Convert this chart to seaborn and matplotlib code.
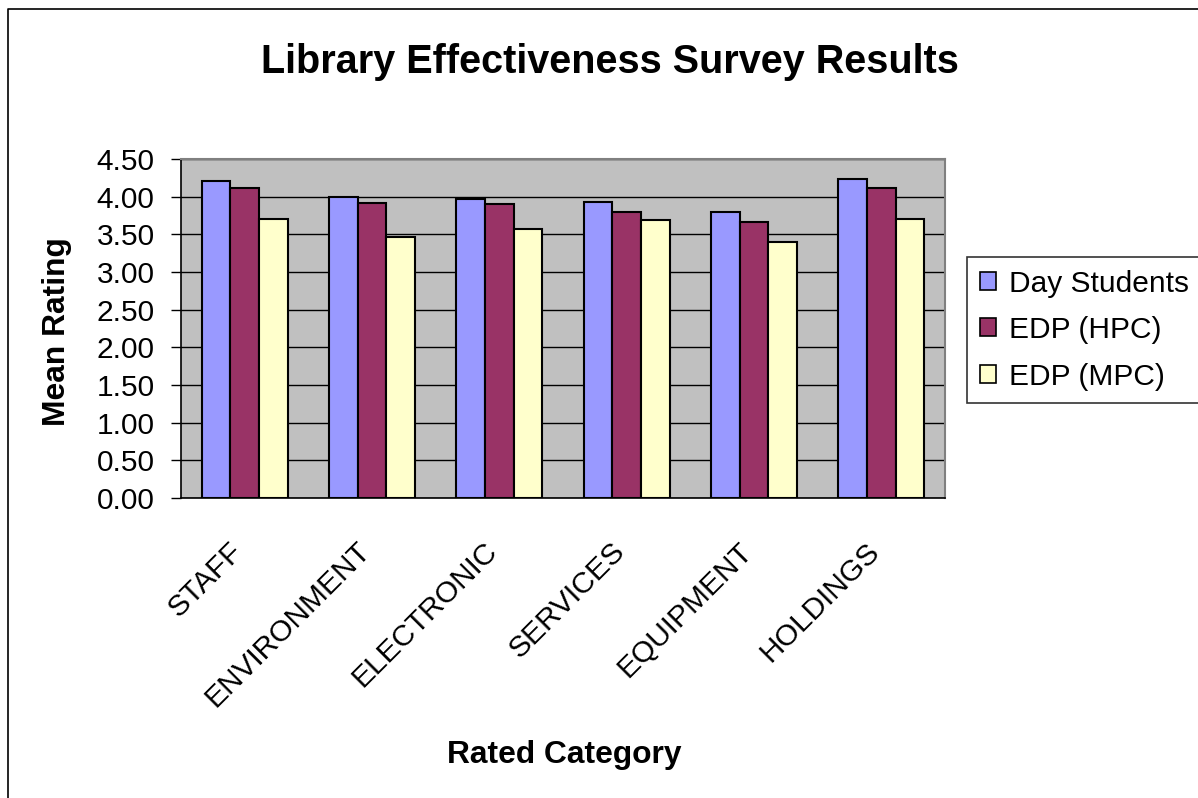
import matplotlib
matplotlib.use("Agg")
import matplotlib.pyplot as plt
from matplotlib.patches import Patch
from matplotlib.lines import Line2D
from matplotlib.transforms import ScaledTranslation
import seaborn as sns
import pandas as pd

categories = ["STAFF", "ENVIRONMENT", "ELECTRONIC", "SERVICES", "EQUIPMENT", "HOLDINGS"]
series_names = ["Day Students", "EDP (HPC)", "EDP (MPC)"]
day_students = [4.21, 4.00, 3.97, 3.93, 3.79, 4.23]
edp_hpc = [4.11, 3.92, 3.90, 3.79, 3.66, 4.11]
edp_mpc = [3.71, 3.47, 3.57, 3.69, 3.40, 3.71]
y_ticks = [0.0, 0.5, 1.0, 1.5, 2.0, 2.5, 3.0, 3.5, 4.0, 4.5]
colors = ["#9999FF", "#993366", "#FFFFCC"]

df = pd.DataFrame({
    "category": categories * 3,
    "series": [s for s in series_names for _ in categories],
    "value": day_students + edp_hpc + edp_mpc,
})

sns.set_style("white")
plt.rcParams["font.family"] = ["Liberation Sans", "DejaVu Sans"]
for key in ["text.color", "axes.labelcolor", "xtick.color", "ytick.color"]:
    plt.rcParams[key] = "black"

W, H = 1198, 798
TICK_FS = 21.5
LABEL_FS = 22.9
fig = plt.figure(figsize=(W / 100, H / 100), dpi=100)
ax = fig.add_axes([181 / W, 1 - 498 / H, 764 / W, 339 / H])
ax.set_facecolor("#C0C0C0")

sns.barplot(data=df, x="category", y="value", hue="series",
            order=categories, hue_order=series_names, palette=colors,
            saturation=1, width=0.675, gap=0, edgecolor="black", linewidth=1.5,
            errorbar=None, ax=ax, legend=False, zorder=3)

ax.set_ylim(0, 4.5)
ax.set_xlim(-0.5, len(categories) - 0.5)
ax.set_yticks(y_ticks)
ax.set_yticklabels([f"{v:.2f}" for v in y_ticks], fontsize=TICK_FS)
ax.yaxis.grid(True, color="black", linewidth=1.0, zorder=1)
ax.set_axisbelow(True)

# boundary ticks between categories, labels centred on groups
ax.set_xticks([i - 0.5 for i in range(len(categories) + 1)])
ax.set_xticklabels([])
ax.tick_params(axis="x", which="major", direction="out", length=8, width=1, color="black")
ax.set_xticks(range(len(categories)), minor=True)
ax.set_xticklabels(categories, minor=True, rotation=45, ha="right", va="top",
                   rotation_mode="anchor", fontsize=TICK_FS)
ax.tick_params(axis="x", which="minor", length=0, pad=0)
shift = ScaledTranslation(-16 / 100, -39 / 100, fig.dpi_scale_trans)
for lbl in ax.get_xticklabels(minor=True):
    lbl.set_transform(lbl.get_transform() + shift)
ax.tick_params(axis="y", direction="out", length=7, width=1, color="black", pad=12, left=True)

for side in ["left", "bottom"]:
    ax.spines[side].set_color("black")
    ax.spines[side].set_linewidth(1.2)
for side in ["top", "right"]:
    ax.spines[side].set_color("#808080")
    ax.spines[side].set_linewidth(1.5)

ax.set_xlabel("")
ax.set_ylabel("")
fig.text(564 / W, 1 - 755 / H, "Rated Category", fontsize=LABEL_FS, fontweight="bold",
         ha="center", va="center")
fig.text(57 / W, 1 - 332 / H, "Mean Rating", fontsize=LABEL_FS, fontweight="bold",
         ha="center", va="center", rotation=90)

fig.text(610 / W, 1 - 62 / H, "Library Effectiveness Survey Results",
         fontsize=28.5, fontweight="bold", ha="center", va="center")

handles = [Patch(facecolor=c, edgecolor="black", linewidth=1.2) for c in colors]
leg = fig.legend(handles, series_names, loc="upper left",
                 bbox_to_anchor=(967 / W, 1 - 257 / H, (1225 - 967) / W, 0),
                 mode="expand", fontsize=TICK_FS,
                 frameon=True, fancybox=False, handlelength=0.55, handleheight=0.55,
                 handletextpad=0.45, labelspacing=0.62, borderpad=0.42,
                 borderaxespad=0)
leg.get_frame().set_edgecolor("black")
leg.get_frame().set_linewidth(1.2)

# chart border along the top and left edges
x0, y0 = 8 / W, 1 - 9 / H
fig.add_artist(Line2D([x0, x0, 1.0], [0.0, y0, y0], transform=fig.transFigure,
                      color="black", linewidth=1.2))

fig.savefig("out.png", dpi=100, facecolor="white")
